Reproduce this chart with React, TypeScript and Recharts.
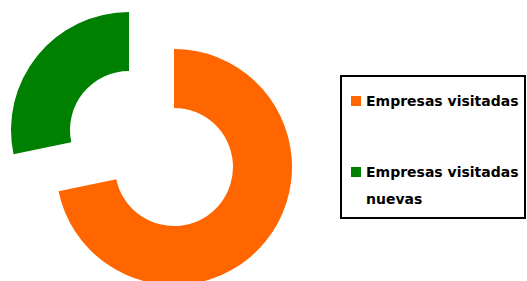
import React from "react";
import { PieChart, Pie, Cell, Legend } from "recharts";

const categories = ["Empresas visitadas", "Empresas visitadas nuevas"];
const values = [38, 15];
const colors = ["#ff6600", "#008000"];

// which slice is pulled out of the ring
const explodedIndex = 1;

const data = categories.map((name, i) => ({ name, value: values[i] }));

const LegendBox = () => (
  <div
    style={{
      width: 182,
      height: 140,
      border: "2px solid #000",
      background: "#fff",
      fontFamily: "'DejaVu Sans', sans-serif",
      fontWeight: "bold",
      fontSize: 14,
      color: "#000",
      position: "relative",
    }}
  >
    {categories.map((name, i) => (
      <div
        key={name}
        style={{
          position: "absolute",
          left: 9,
          top: i === 0 ? 11 : 82,
          display: "flex",
          alignItems: "flex-start",
        }}
      >
        <span
          style={{
            width: 10,
            height: 10,
            background: colors[i],
            marginTop: 8,
            marginRight: 5,
            flexShrink: 0,
          }}
        />
        <span style={{ width: 160, lineHeight: "27px", whiteSpace: "normal" }}>
          {name}
        </span>
      </div>
    ))}
  </div>
);

const App: React.FC = () => {
  return (
    <div>
      <style>{"body{margin:0}"}</style>
      <PieChart width={527} height={281} margin={{ top: 0, right: 0, bottom: 0, left: 0 }}>
        <Pie
          data={data}
          dataKey="value"
          nameKey="name"
          cx={174}
          cy={167}
          innerRadius={59}
          outerRadius={118}
          startAngle={90}
          endAngle={-270}
          stroke="none"
          isAnimationActive={false}
        >
          {data.map((d, i) => (
            <Cell
              key={d.name}
              fill={i === explodedIndex ? "transparent" : colors[i]}
            />
          ))}
        </Pie>
        <Pie
          data={data}
          dataKey="value"
          nameKey="name"
          cx={129}
          cy={130}
          innerRadius={59}
          outerRadius={118}
          startAngle={90}
          endAngle={-270}
          stroke="none"
          isAnimationActive={false}
        >
          {data.map((d, i) => (
            <Cell
              key={d.name}
              fill={i === explodedIndex ? colors[i] : "transparent"}
            />
          ))}
        </Pie>
        <Legend
          content={() => <LegendBox />}
          wrapperStyle={{ position: "absolute", left: 340, top: 75, width: "auto" }}
        />
      </PieChart>
    </div>
  );
};

export default App;
